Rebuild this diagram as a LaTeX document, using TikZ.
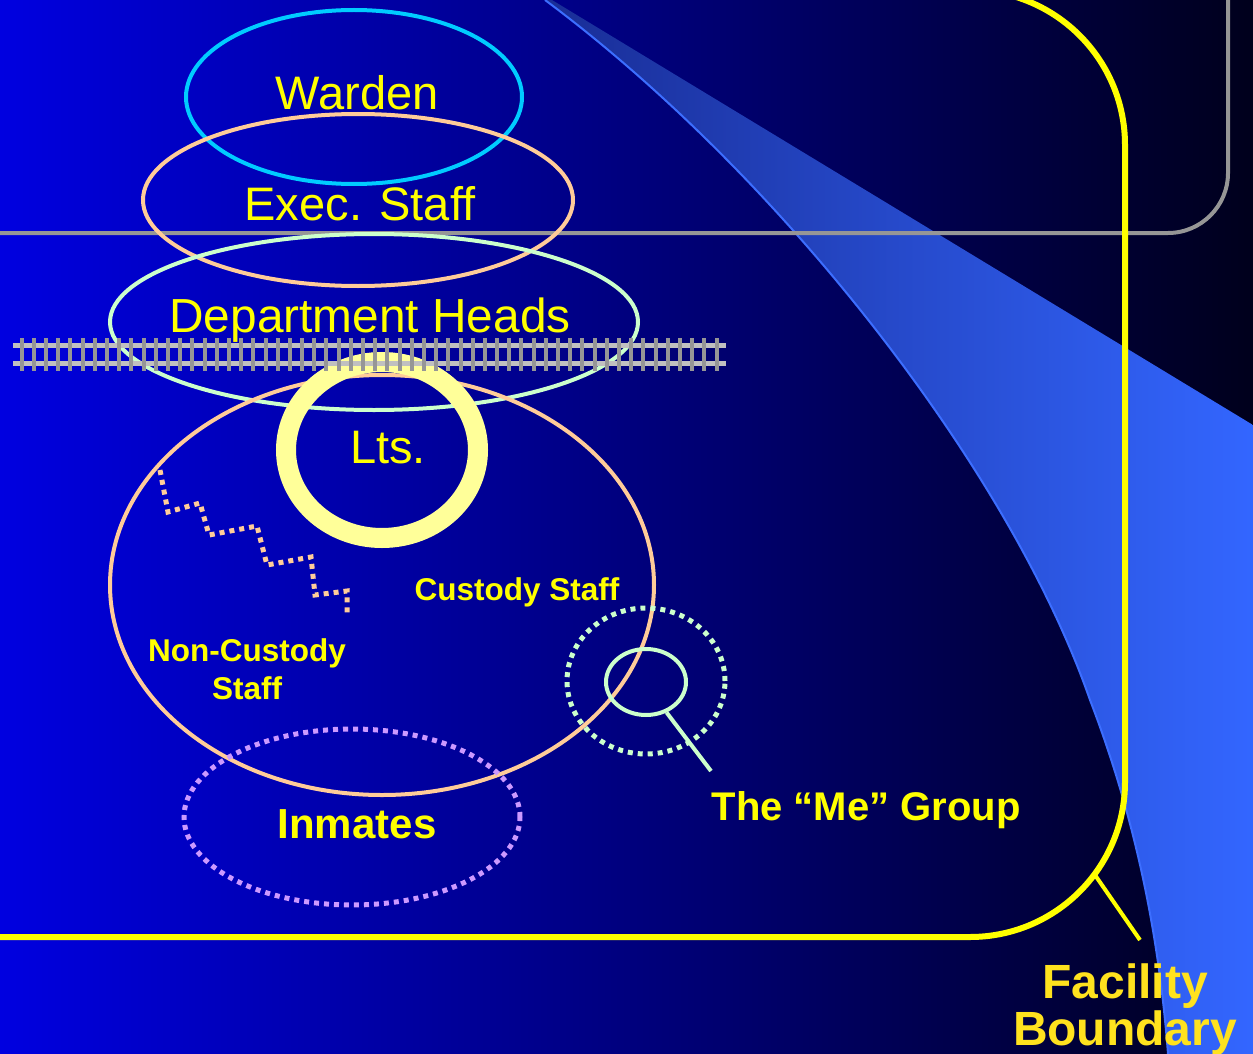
\documentclass[tikz,border=0pt]{standalone}
\usepackage{fontspec}
\setmainfont{Liberation Sans}
\usepackage{xcolor}
\usetikzlibrary{shapes.geometric, positioning}

\definecolor{bgleft}{RGB}{0,0,224}
\definecolor{bgright}{RGB}{0,0,28}
\definecolor{swleft}{RGB}{25,45,150}
\definecolor{swright}{RGB}{51,102,255}
\definecolor{swedge}{RGB}{60,110,255}
\definecolor{framegray}{RGB}{150,150,150}
\definecolor{bndyellow}{RGB}{255,255,0}
\definecolor{txtyellow}{RGB}{255,255,0}
\definecolor{facyellow}{RGB}{255,226,30}
\definecolor{wardencol}{RGB}{0,204,255}
\definecolor{peach}{RGB}{255,204,153}
\definecolor{mint}{RGB}{204,255,204}
\definecolor{ltscol}{RGB}{255,255,153}
\definecolor{lavender}{RGB}{204,153,255}
\definecolor{railcol}{RGB}{192,192,192}
\definecolor{tiecol}{RGB}{150,150,150}

\begin{document}
\begin{tikzpicture}[
    x=1pt, y=-1pt,
    ring/.style={ellipse, draw, line width=4pt, inner sep=0pt},
    dotring/.style={ellipse, draw, line width=5pt, inner sep=0pt, dash pattern=on 5pt off 5pt},
    thintxt/.style={text=txtyellow, font=\fontsize{47}{50}\selectfont, inner sep=0pt, anchor=base},
    boldtxt/.style={text=txtyellow, font=\bfseries\fontsize{31.5}{38}\selectfont, inner sep=0pt, anchor=base, align=center},
    biglbl/.style={text=txtyellow, font=\bfseries\fontsize{41}{44}\selectfont, inner sep=0pt, anchor=base},
    rail/.style={draw=railcol, line width=5pt},
    tie/.style={draw=tiecol, line width=4pt},
]

\useasboundingbox (0,0) rectangle (1253,1054);
\clip (0,0) rectangle (1253,1054);

% background
\shade[left color=bgleft, right color=bgright] (0,0) rectangle (1253,1054);

% blue swoosh
\shade[left color=swleft, right color=swright]
    (545,0) .. controls (780,175) and (1010,470) .. (1090,700)
    .. controls (1140,830) and (1160,950) .. (1168,1054)
    -- (1253,1054) -- (1253,425) -- (552,0) -- cycle;
\draw[swedge, line width=2pt]
    (545,0) .. controls (780,175) and (1010,470) .. (1090,700)
    .. controls (1140,830) and (1160,950) .. (1168,1054);

% gray frame and facility boundary
\draw[framegray, line width=4pt, rounded corners=60pt] (0,233) -- (1228,233) -- (1228,-20);
\draw[bndyellow, line width=6pt, rounded corners=155pt] (-10,937) -- (1125,937) -- (1125,-10) -- (880,-10);

% ellipses
\node[ring, draw=wardencol, minimum width=336pt, minimum height=174pt] (wardenring) at (354,97) {};
\node[ring, draw=peach, minimum width=430pt, minimum height=172pt] (execring) at (358,200) {};
\node[ring, draw=mint, minimum width=528pt, minimum height=176pt] (deptring) at (374,322) {};
\node[ring, draw=peach, minimum width=544pt, minimum height=420pt] (custring) at (382,585) {};
\node[dotring, draw=lavender, minimum width=336pt, minimum height=176pt] (inmring) at (352,817) {};
\node[ring, draw=ltscol, line width=20pt, minimum width=192pt, minimum height=176pt] (ltsring) at (382,450) {};

% custody / non-custody divide
\draw[peach, line width=5pt, dash pattern=on 5pt off 5pt]
    (160,470) -- (168,512) -- (200,503) -- (209,535) -- (257,526) -- (267,565)
    -- (311,557) -- (315,595) -- (347,591) -- (347,615);

% the "Me" group
\node[dotring, draw=mint, minimum width=158pt, minimum height=146pt] (meouter) at (646,681) {};
\node[ring, draw=mint, minimum width=80pt, minimum height=66pt] (lens) at (646,682) {};
\coordinate (handle) at (711,771);
\draw[mint, line width=4pt] (lens.-56) -- (handle);

% railroad track
\draw[rail] (13,345) -- (726,345);
\draw[rail] (13,363) -- (726,363);
\foreach \i in {0,...,57}
    \draw[tie] ({21.7+12.19*\i},338) -- ({21.7+12.19*\i},371);

% labels
\node[thintxt] (warden) at (357,110) {Warden};
\node[thintxt] (exec) at (360,220) {Exec. Staff};
\node[thintxt, font=\fontsize{47.8}{50}\selectfont] (dept) at (370,332) {Department Heads};
\node[thintxt] (lts) at (388,463) {Lts.};
\node[boldtxt] (custody) at (517,600) {Custody Staff};
\node[boldtxt] (noncust) at (247,699) {Non-Custody\\Staff};
\node[biglbl, font=\bfseries\fontsize{42}{44}\selectfont] (inmates) at (357,838) {Inmates};
\node[biglbl, font=\bfseries\fontsize{40}{44}\selectfont] (megroup) at (866,820) {The “Me” Group};

% facility boundary label
\node[text=facyellow, font=\bfseries\fontsize{48}{47}\selectfont, inner sep=0pt, anchor=base, align=center] (facility) at (1125,1045) {Facility\\Boundary};
\coordinate (bndpt) at (1095,875);
\coordinate (ptrend) at (1140,940);
\draw[bndyellow, line width=4pt] (bndpt) -- (ptrend);

\end{tikzpicture}
\end{document}
